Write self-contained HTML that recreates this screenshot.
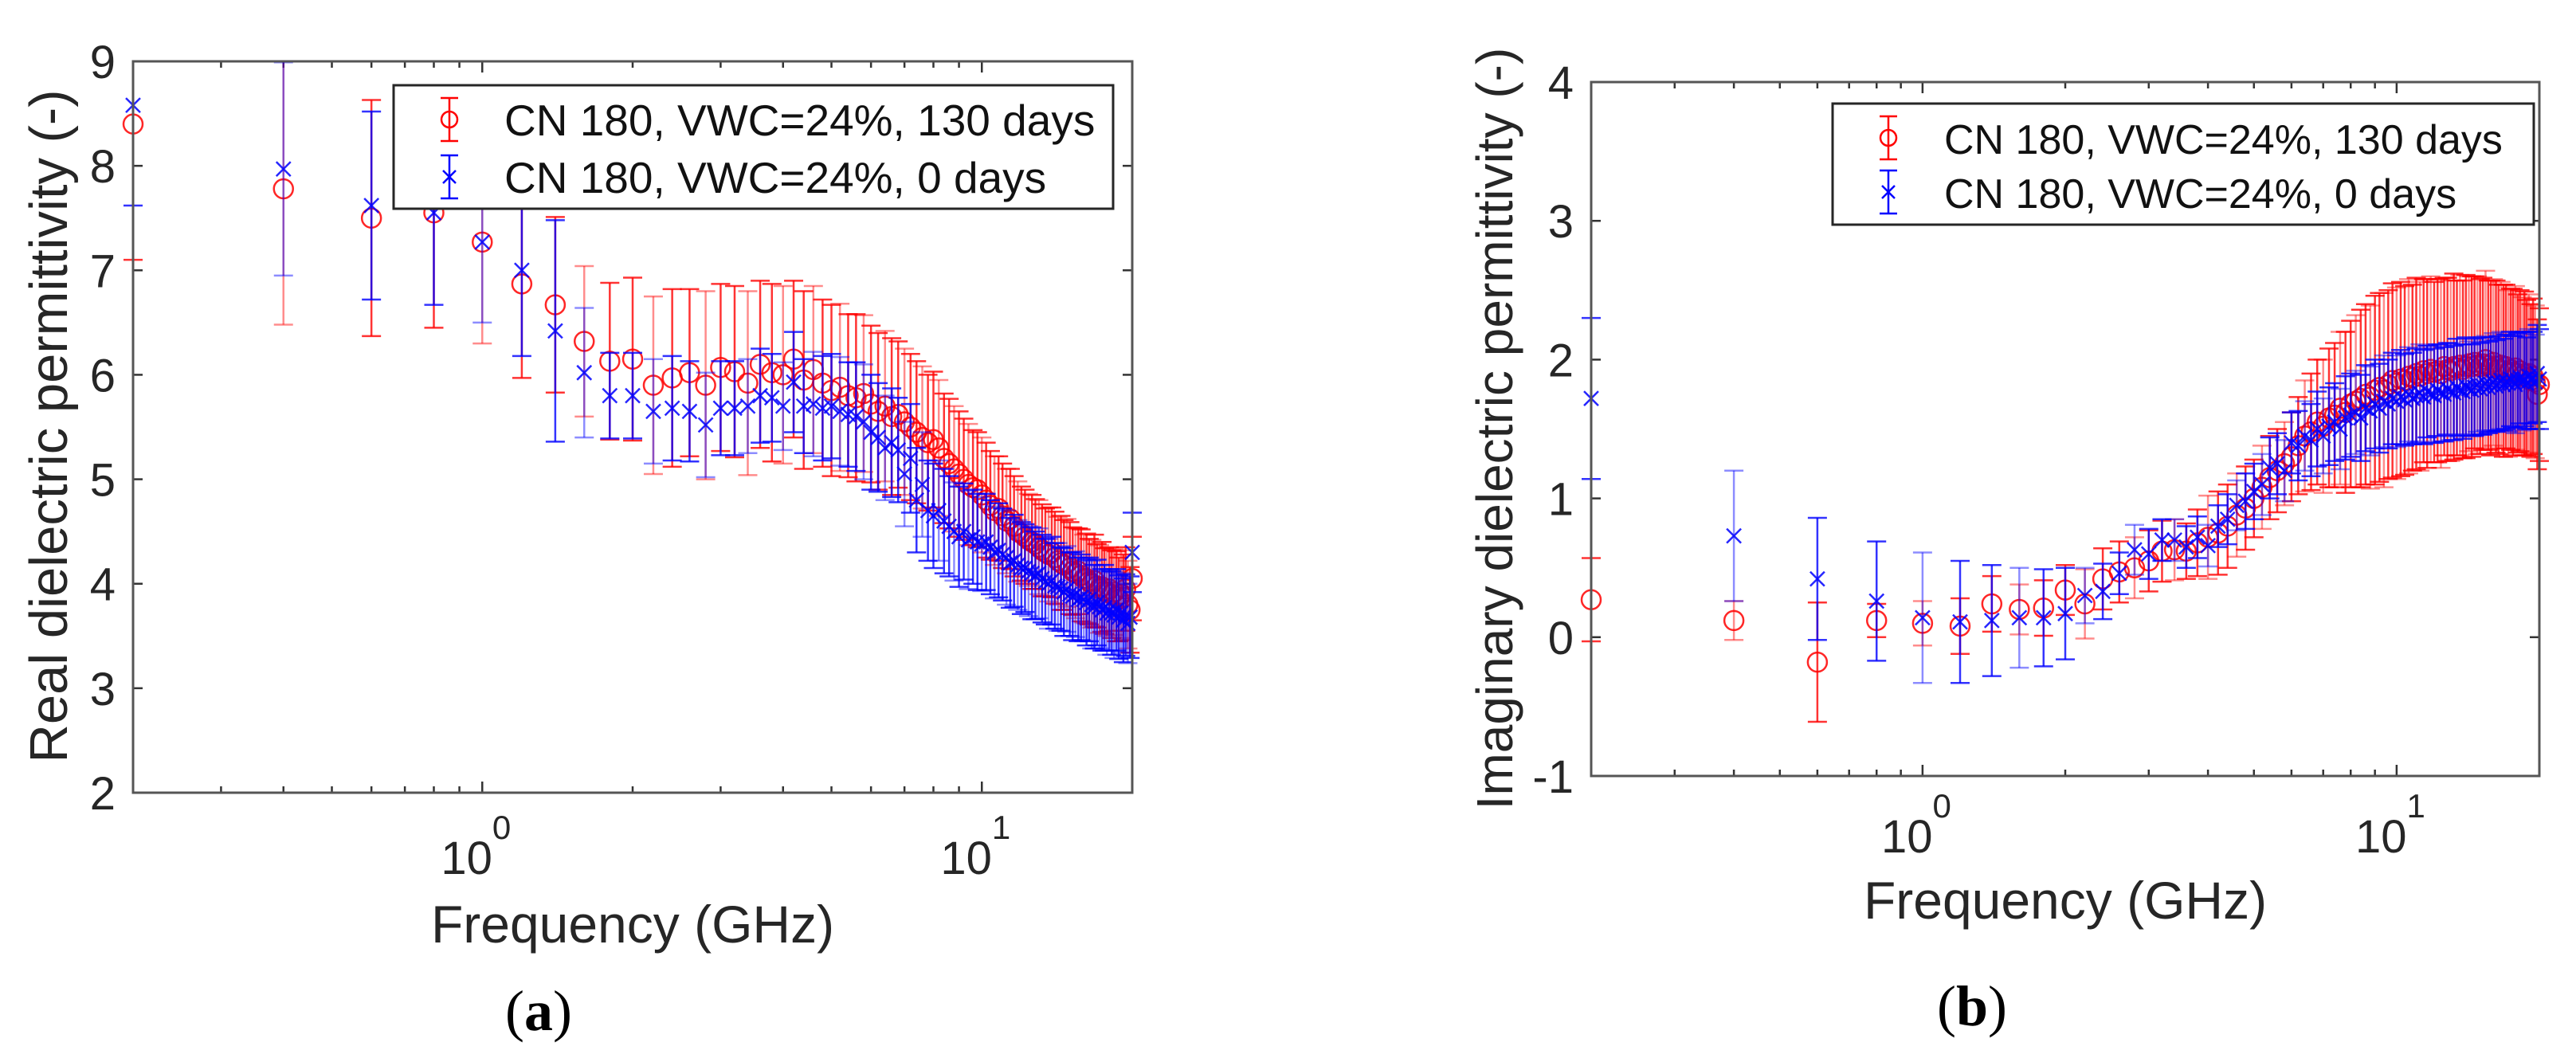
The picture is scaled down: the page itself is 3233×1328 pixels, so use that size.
<!DOCTYPE html>
<html><head><meta charset="utf-8"><style>
html,body{margin:0;padding:0;background:#fff;}
svg{display:block;font-family:"Liberation Sans",Arial,sans-serif;}
</style></head><body>
<svg id="fig" xmlns="http://www.w3.org/2000/svg" width="3233" height="1328" viewBox="0 0 3233 1328"></svg>
<script>
const freqs=[0.2,0.4,0.6,0.8,1.0,1.2,1.4,1.6,1.8,2.0,2.2,2.4,2.6,2.8,3.0,3.2,3.4,3.6,3.8,4.0,4.2,4.4,4.6,4.8,5.0,5.2,5.4,5.6,5.8,6.0,6.2,6.4,6.6,6.8,7.0,7.2,7.4,7.6,7.8,8.0,8.2,8.4,8.6,8.8,9.0,9.2,9.4,9.6,9.8,10.0,10.2,10.4,10.6,10.8,11.0,11.2,11.4,11.6,11.8,12.0,12.2,12.4,12.6,12.8,13.0,13.2,13.4,13.6,13.8,14.0,14.2,14.4,14.6,14.8,15.0,15.2,15.4,15.6,15.8,16.0,16.2,16.4,16.6,16.8,17.0,17.2,17.4,17.6,17.8,18.0,18.2,18.4,18.6,18.8,19.0,19.2,19.4,19.6,19.8,20.0];
const realRed=[8.40,7.78,7.50,7.55,7.27,6.87,6.67,6.32,6.13,6.15,5.90,5.97,6.02,5.90,6.07,6.03,5.92,6.10,6.02,6.00,6.15,5.95,6.05,5.92,5.85,5.88,5.80,5.78,5.82,5.72,5.65,5.70,5.60,5.62,5.55,5.50,5.45,5.40,5.35,5.38,5.30,5.20,5.15,5.10,5.05,5.00,4.95,4.92,4.90,4.85,4.80,4.75,4.70,4.72,4.65,4.60,4.62,4.55,4.50,4.48,4.45,4.42,4.40,4.38,4.35,4.32,4.30,4.28,4.30,4.25,4.22,4.20,4.18,4.20,4.15,4.12,4.10,4.12,4.08,4.05,4.05,4.02,4.00,4.03,3.98,3.95,3.97,3.93,3.92,3.95,3.90,3.92,3.88,3.85,3.90,3.87,3.95,3.80,3.75,4.05];
const realRedErr=[1.30,1.30,1.13,1.10,0.97,0.90,0.84,0.72,0.75,0.78,0.85,0.85,0.80,0.90,0.80,0.82,0.88,0.80,0.85,0.85,0.75,0.85,0.80,0.80,0.82,0.80,0.78,0.80,0.75,0.75,0.75,0.72,0.75,0.70,0.70,0.70,0.68,0.68,0.65,0.65,0.65,0.62,0.62,0.60,0.60,0.58,0.58,0.55,0.55,0.55,0.55,0.52,0.52,0.50,0.50,0.50,0.48,0.48,0.48,0.45,0.45,0.44,0.45,0.43,0.45,0.44,0.42,0.45,0.43,0.44,0.42,0.45,0.43,0.42,0.44,0.42,0.43,0.41,0.44,0.42,0.43,0.41,0.42,0.44,0.40,0.42,0.43,0.41,0.42,0.40,0.42,0.41,0.43,0.40,0.42,0.41,0.40,0.42,0.41,0.40];
const realBlue=[8.58,7.97,7.62,7.55,7.27,7.00,6.42,6.02,5.80,5.80,5.65,5.68,5.65,5.52,5.68,5.68,5.70,5.80,5.78,5.70,5.93,5.70,5.72,5.68,5.70,5.65,5.62,5.60,5.55,5.45,5.40,5.30,5.35,5.28,5.05,5.20,4.80,4.95,4.70,4.65,4.70,4.60,4.55,4.50,4.45,4.50,4.42,4.45,4.40,4.38,4.40,4.35,4.30,4.32,4.28,4.25,4.20,4.22,4.18,4.15,4.15,4.12,4.10,4.08,4.10,4.05,4.02,4.00,4.03,3.98,3.97,3.95,3.92,3.95,3.90,3.88,3.90,3.85,3.87,3.85,3.82,3.85,3.80,3.78,3.82,3.78,3.75,3.77,3.72,3.75,3.72,3.70,3.75,3.68,3.72,3.65,3.70,3.62,3.68,4.30];
const realBlueErr=[0.96,1.02,0.90,0.88,0.77,0.82,1.06,0.62,0.41,0.41,0.50,0.50,0.48,0.50,0.45,0.45,0.45,0.45,0.42,0.42,0.48,0.45,0.50,0.50,0.50,0.52,0.50,0.52,0.55,0.55,0.52,0.50,0.52,0.50,0.50,0.52,0.50,0.50,0.48,0.50,0.48,0.50,0.48,0.47,0.48,0.46,0.47,0.45,0.46,0.45,0.46,0.45,0.44,0.45,0.44,0.45,0.43,0.44,0.43,0.44,0.42,0.43,0.44,0.42,0.43,0.42,0.41,0.43,0.42,0.41,0.42,0.40,0.42,0.41,0.40,0.42,0.41,0.40,0.41,0.40,0.41,0.40,0.42,0.40,0.41,0.40,0.39,0.41,0.40,0.39,0.40,0.41,0.39,0.40,0.38,0.40,0.39,0.38,0.39,0.38];
const imagRed=[0.27,0.12,-0.18,0.12,0.10,0.08,0.24,0.20,0.21,0.34,0.24,0.42,0.47,0.50,0.55,0.62,0.63,0.62,0.68,0.72,0.75,0.80,0.88,0.93,1.00,1.08,1.15,1.20,1.25,1.30,1.38,1.45,1.48,1.55,1.52,1.58,1.60,1.65,1.62,1.68,1.70,1.72,1.75,1.73,1.78,1.80,1.78,1.82,1.85,1.83,1.86,1.85,1.88,1.87,1.90,1.88,1.92,1.90,1.93,1.91,1.92,1.90,1.95,1.93,1.92,1.95,1.94,1.96,1.93,1.95,1.97,1.95,1.98,1.96,1.95,1.97,2.00,1.96,1.94,1.98,1.95,1.93,1.96,1.92,1.95,1.90,1.93,1.91,1.94,1.90,1.92,1.88,1.90,1.87,1.90,1.85,1.88,1.84,1.75,1.82];
const imagRedErr=[0.30,0.14,0.43,0.12,0.16,0.20,0.20,0.18,0.20,0.18,0.25,0.22,0.22,0.22,0.22,0.22,0.22,0.20,0.24,0.30,0.30,0.30,0.30,0.30,0.28,0.30,0.30,0.30,0.30,0.32,0.35,0.40,0.42,0.45,0.48,0.50,0.52,0.55,0.58,0.60,0.62,0.64,0.65,0.66,0.68,0.68,0.70,0.68,0.70,0.69,0.70,0.68,0.70,0.67,0.69,0.68,0.66,0.68,0.67,0.65,0.66,0.68,0.64,0.66,0.65,0.67,0.63,0.65,0.64,0.66,0.63,0.65,0.62,0.64,0.63,0.62,0.64,0.61,0.63,0.60,0.62,0.61,0.60,0.62,0.59,0.60,0.58,0.60,0.59,0.57,0.58,0.57,0.59,0.56,0.57,0.55,0.56,0.55,0.54,0.55];
const imagBlue=[1.72,0.73,0.42,0.26,0.14,0.11,0.12,0.14,0.14,0.17,0.30,0.33,0.46,0.63,0.60,0.70,0.70,0.65,0.72,0.66,0.80,0.85,0.95,0.98,1.05,1.10,1.22,1.25,1.20,1.40,1.38,1.45,1.42,1.50,1.45,1.52,1.55,1.50,1.58,1.60,1.62,1.58,1.65,1.63,1.68,1.65,1.70,1.68,1.72,1.70,1.73,1.71,1.75,1.72,1.74,1.76,1.73,1.77,1.75,1.74,1.78,1.76,1.75,1.79,1.77,1.76,1.80,1.78,1.77,1.81,1.79,1.78,1.80,1.82,1.79,1.81,1.83,1.80,1.82,1.84,1.81,1.83,1.85,1.82,1.84,1.83,1.86,1.84,1.82,1.85,1.87,1.84,1.86,1.83,1.88,1.85,1.87,1.84,1.90,1.86];
const imagBlueErr=[0.58,0.47,0.44,0.43,0.47,0.44,0.40,0.36,0.35,0.33,0.20,0.20,0.15,0.18,0.18,0.15,0.15,0.15,0.15,0.15,0.15,0.18,0.18,0.20,0.20,0.22,0.22,0.22,0.22,0.22,0.25,0.25,0.26,0.27,0.27,0.28,0.28,0.29,0.30,0.30,0.30,0.31,0.31,0.32,0.32,0.32,0.33,0.32,0.33,0.33,0.34,0.33,0.34,0.33,0.34,0.35,0.34,0.33,0.35,0.34,0.33,0.35,0.34,0.33,0.35,0.34,0.35,0.33,0.34,0.35,0.34,0.33,0.35,0.34,0.33,0.35,0.34,0.33,0.34,0.35,0.33,0.34,0.35,0.33,0.34,0.35,0.34,0.33,0.35,0.34,0.33,0.35,0.34,0.33,0.34,0.35,0.33,0.34,0.35,0.36];
const yTicksA=[2,3,4,5,6,7,8,9];
const yTicksB=[-1,0,1,2,3,4];
const xMajor=[1,10];
const xMajorExp=["0","1"];
const xMinor=[0.2,0.3,0.4,0.5,0.6,0.7,0.8,0.9,2,3,4,5,6,7,8,9,20];
const legendLabels=["CN 180, VWC=24%, 130 days","CN 180, VWC=24%, 0 days"];

const NS="http://www.w3.org/2000/svg";
const fig=document.getElementById('fig');
function mk(tag,attrs,parent){const e=document.createElementNS(NS,tag);for(const k in attrs)e.setAttribute(k,attrs[k]);(parent||fig).appendChild(e);return e;}

function drawChart(cfg){
  const g=mk('g',{});
  
  
  const L=cfg.left,R=cfg.right,T=cfg.top,B=cfg.bottom;
  const lx0=Math.log10(0.2),lx1=Math.log10(20);
  const sx=v=>L+(Math.log10(v)-lx0)/(lx1-lx0)*(R-L);
  const sy=v=>B-(v-cfg.ymin)/(cfg.ymax-cfg.ymin)*(B-T);
  const clipId=cfg.name+'-clip';
  const defs=mk('defs',{},g);
  const cp=mk('clipPath',{id:clipId},defs);
  mk('rect',{x:L-20,y:T,width:R-L+40,height:B-T},cp);
  const ticks=mk('g',{stroke:'#333','stroke-width':2.5},g);
  
  
  xMajor.forEach(v=>{const x=sx(v);mk('line',{x1:x,x2:x,y1:B,y2:B-14},ticks);mk('line',{x1:x,x2:x,y1:T,y2:T+14},ticks);});
  xMinor.forEach(v=>{const x=sx(v);mk('line',{x1:x,x2:x,y1:B,y2:B-8},ticks);mk('line',{x1:x,x2:x,y1:T,y2:T+8},ticks);});
  cfg.yticks.forEach(v=>{const y=sy(v);mk('line',{x1:L,x2:L+12,y1:y,y2:y},ticks);mk('line',{x1:R,x2:R-12,y1:y,y2:y},ticks);});
  const series=[{m:cfg.red,e:cfg.redErr,c:'#ff0000',k:'circle',n:'series-130-days'},{m:cfg.blue,e:cfg.blueErr,c:'#0000ff',k:'x',n:'series-0-days'}];
  series.forEach(s=>{
    const sg=mk('g',{'clip-path':'url(#'+clipId+')'},g);
    
    
    freqs.forEach((f,i)=>{
      const x=sx(f),y=sy(s.m[i]),y1=sy(s.m[i]+s.e[i]),y2=sy(s.m[i]-s.e[i]);
      const op=(i%3===1)?0.45:0.8;
      const eb=mk('g',{stroke:s.c,'stroke-width':2.5,'stroke-opacity':op,fill:'none'},sg);
      
      
      mk('line',{x1:x,x2:x,y1:y1,y2:y2},eb);
      mk('line',{x1:x-12,x2:x+12,y1:y1,y2:y1},eb);
      mk('line',{x1:x-12,x2:x+12,y1:y2,y2:y2},eb);
      let mkr;
      if(s.k==='circle'){mkr=mk('circle',{cx:x,cy:y,r:12,stroke:s.c,'stroke-width':2.5,fill:'none','stroke-opacity':0.85},sg);}
      else{mkr=mk('path',{d:`M${x-9},${y-9}L${x+9},${y+9}M${x-9},${y+9}L${x+9},${y-9}`,stroke:s.c,'stroke-width':2.5,fill:'none','stroke-opacity':0.85},sg);}
      
      
    });
  });
  const fr=mk('rect',{x:L,y:T,width:R-L,height:B-T,fill:'none',stroke:'#555','stroke-width':3},g);
  
  
  cfg.yticks.forEach(v=>{
    const t=mk('text',{x:L-22,y:sy(v)+21,'text-anchor':'end','font-size':58,fill:'#262626'},g);
    t.textContent=String(v);
    
    
  });
  xMajor.forEach((v,i)=>{
    const t=mk('text',{x:sx(v)-8,y:cfg.xlabY,'text-anchor':'middle','font-size':58,fill:'#262626'},g);
    
    
    const a=mk('tspan',{},t);a.textContent='10';
    const b=mk('tspan',{dy:-44,'font-size':42},t);b.textContent=xMajorExp[i];
  });
  const xl=mk('text',{x:(L+R)/2,y:cfg.xtitleY,'text-anchor':'middle','font-size':66,fill:'#262626'},g);
  xl.textContent='Frequency (GHz)';
  
  
  const yl=mk('text',{x:0,y:0,'text-anchor':'middle','font-size':cfg.ytitleSize,fill:'#262626',transform:`translate(${cfg.ytitleX},${cfg.ytitleCY}) rotate(-90)`},g);
  yl.textContent=cfg.ytitle;
  
  
  const lg=mk('g',{},g);
  
  
  const lb=cfg.legend;
  mk('rect',{x:lb.x,y:lb.y,width:lb.w,height:lb.h,fill:'#fff',stroke:'#262626','stroke-width':3},lg);
  [['#ff0000','circle'],['#0000ff','x']].forEach((s,i)=>{
    const by=lb.rows[i];
    const mx=lb.mx, cy=by-20;
    const ent=mk('g',{},lg);
    
    
    const eg=mk('g',{stroke:s[0],'stroke-width':2.5,fill:'none'},ent);
    mk('line',{x1:mx,x2:mx,y1:cy-27,y2:cy+27},eg);
    mk('line',{x1:mx-11,x2:mx+11,y1:cy-27,y2:cy-27},eg);
    mk('line',{x1:mx-11,x2:mx+11,y1:cy+27,y2:cy+27},eg);
    if(s[1]==='circle')mk('circle',{cx:mx,cy:cy,r:10},eg);
    else mk('path',{d:`M${mx-8},${cy-8}L${mx+8},${cy+8}M${mx-8},${cy+8}L${mx+8},${cy-8}`},eg);
    const t=mk('text',{x:lb.tx,y:by,'font-size':lb.fs,fill:'#111'},ent);
    t.textContent=legendLabels[i];
    
    
  });
  const cap=mk('text',{x:cfg.capX,y:cfg.capY,'text-anchor':'middle','font-size':72,fill:'#000','font-family':'"Liberation Serif",serif'},g);
  
  
  const c1=mk('tspan',{},cap);c1.textContent='(';
  const c2=mk('tspan',{'font-weight':'bold'},cap);c2.textContent=cfg.capLetter;
  const c3=mk('tspan',{},cap);c3.textContent=')';
}

drawChart({name:'chart-real',left:167,right:1421,top:77,bottom:995,ymin:2,ymax:9,yticks:yTicksA,
  red:realRed,redErr:realRedErr,blue:realBlue,blueErr:realBlueErr,
  xlabY:1097,xtitleY:1183,ytitle:'Real dielectric permittivity (-)',ytitleX:84,ytitleCY:535,ytitleSize:67,
  legend:{x:494,y:107,w:903,h:155,rows:[170,242],mx:564,tx:633,fs:55},capX:676,capY:1293,capLetter:'a'});
drawChart({name:'chart-imag',left:1997,right:3187,top:103,bottom:974,ymin:-1,ymax:4,yticks:yTicksB,
  red:imagRed,redErr:imagRedErr,blue:imagBlue,blueErr:imagBlueErr,
  xlabY:1070,xtitleY:1153,ytitle:'Imaginary dielectric permittivity (-)',ytitleX:1898,ytitleCY:538,ytitleSize:64,
  legend:{x:2300,y:130,w:880,h:152,rows:[193,261],mx:2370,tx:2440,fs:52},capX:2475,capY:1287,capLetter:'b'});
</script>
</body></html>
